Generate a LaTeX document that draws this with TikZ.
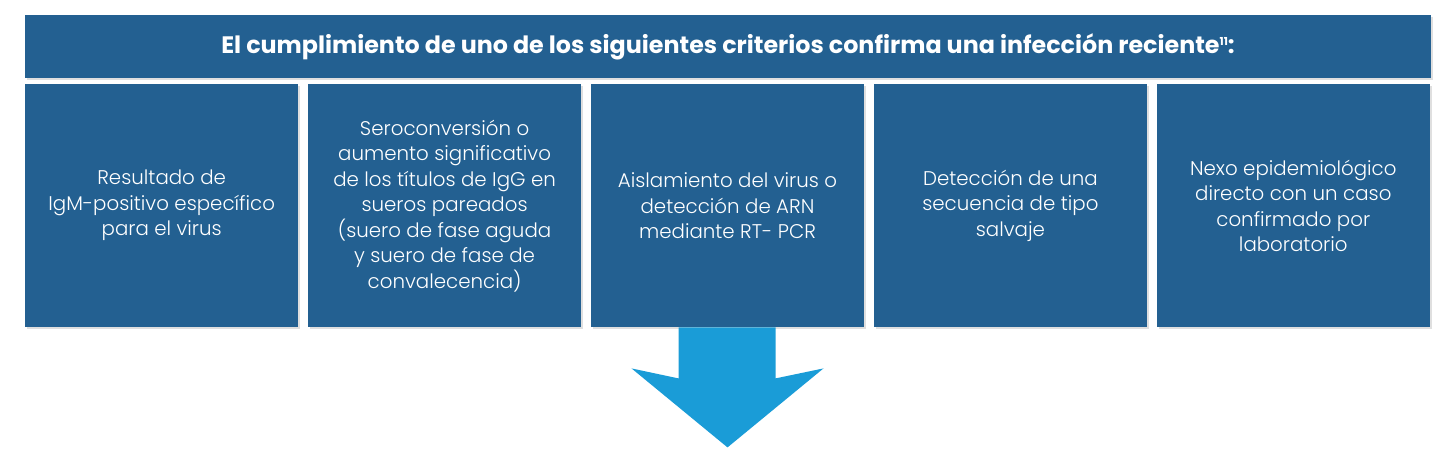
\documentclass[tikz,border=0pt]{standalone}
\usepackage{fontspec}
\setmainfont{Poppins}
\newfontfamily\lightfont{Poppins Light}
\usetikzlibrary{positioning,shadows}
\definecolor{boxblue}{RGB}{35,96,145}
\definecolor{arrowblue}{RGB}{26,156,215}

\begin{document}
\begin{tikzpicture}[x=1pt, y=-1pt, node distance=9.5pt,
    header/.style={fill=boxblue, text=white, minimum width=1406pt, minimum height=63pt,
        inner sep=0pt, font=\bfseries\fontsize{23.8}{28}\selectfont,
        drop shadow={opacity=0.25, shadow xshift=2pt, shadow yshift=-2pt}},
    crit/.style={fill=boxblue, text=white, minimum width=273pt, minimum height=243pt,
        inner sep=0pt, align=center, font=\lightfont\fontsize{19.8}{25.5}\selectfont,
        drop shadow={opacity=0.25, shadow xshift=2pt, shadow yshift=-2pt}}]
\useasboundingbox (0,0) rectangle (1449,449);
\node[header] (title) at (728,46.5)
    {El cumplimiento de uno de los siguientes criterios confirma una infección reciente{\fontsize{11}{11}\selectfont\raisebox{8pt}{11}}:};
\node[crit, anchor=north west] (crit1) at (25,84)
    {Resultado de\\IgM-positivo específico\\para el virus};
\node[crit, right=of crit1] (crit2)
    {Seroconversión o\\aumento significativo\\de los títulos de IgG en\\sueros pareados\\(suero de fase aguda\\y suero de fase de\\convalecencia)};
\node[crit, right=of crit2] (crit3)
    {Aislamiento del virus o\\detección de ARN\\mediante RT- PCR};
\node[crit, right=of crit3] (crit4)
    {Detección de una\\secuencia de tipo\\salvaje};
\node[crit, right=of crit4] (crit5)
    {Nexo epidemiológico\\directo con un caso\\confirmado por\\laboratorio};
% flecha hacia abajo
\fill[arrowblue] ([xshift=-49pt]crit3.south) -- ++(0,51) -- ++(-47,-10)
    -- ([yshift=-120pt]crit3.south) -- ++(96,-79) -- ++(-48,10) -- ++(0,-51) -- cycle;
\end{tikzpicture}
\end{document}
